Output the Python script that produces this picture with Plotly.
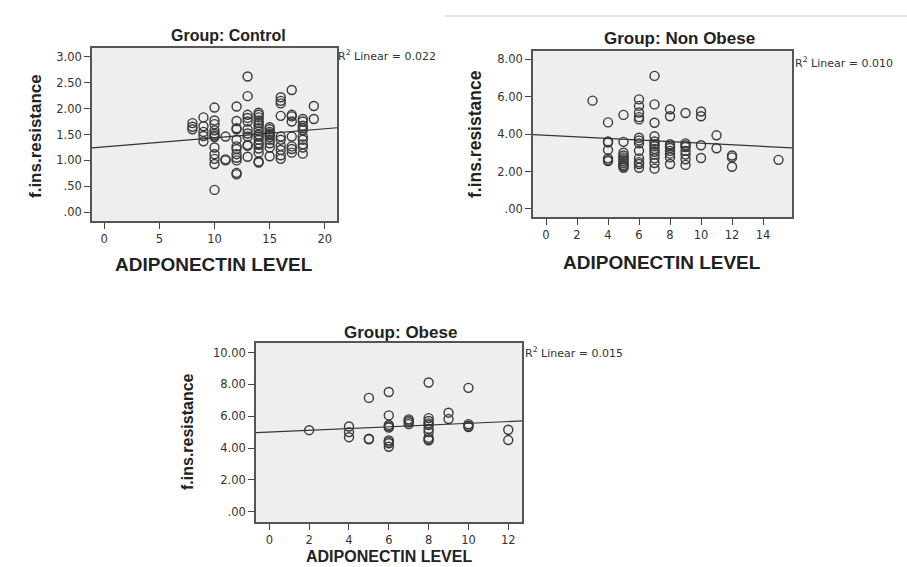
import plotly.graph_objects as go

W, H = 907, 567

# ---------------- data ----------------
# Group: Control  (x = adiponectin level, y = f.ins.resistance)
ctrl_x = ([8]*3 + [9]*5 + [10]*12 + [11]*3 + [12]*12 + [13]*11 + [14]*17 +
          [15]*10 + [16]*10 + [17]*8 + [18]*10 + [19]*2)
ctrl_y = [1.72, 1.65, 1.60,
          1.83, 1.66, 1.55, 1.47, 1.37,
          2.02, 1.77, 1.70, 1.58, 1.52, 1.48, 1.45, 1.25, 1.12, 1.03, 0.93, 0.43,
          1.46, 1.02, 1.00,
          2.04, 1.76, 1.62, 1.60, 1.40, 1.27, 1.22, 1.12, 1.05, 1.00, 0.76, 0.73,
          2.62, 2.24, 1.88, 1.82, 1.75, 1.60, 1.52, 1.46, 1.30, 1.28, 1.07,
          1.92, 1.88, 1.83, 1.77, 1.72, 1.68, 1.62, 1.56, 1.50, 1.46, 1.40, 1.33, 1.30, 1.23, 1.15, 0.98, 0.96,
          1.64, 1.60, 1.55, 1.52, 1.49, 1.45, 1.40, 1.33, 1.25, 1.08,
          2.22, 2.15, 2.10, 1.86, 1.46, 1.40, 1.28, 1.20, 1.10, 1.03,
          2.36, 1.88, 1.85, 1.75, 1.46, 1.27, 1.22, 1.15,
          1.80, 1.75, 1.67, 1.62, 1.58, 1.46, 1.40, 1.31, 1.25, 1.13,
          2.05, 1.80]
ctrl_fit_x = [-1.1, 21.1]
ctrl_fit_y = [1.24, 1.63]
ctrl_r2 = "0.022"

# Group: Non Obese
nonob_x = ([3]*1 + [4]*7 + [5]*11 + [6]*13 + [7]*13 + [8]*9 + [9]*8 +
           [10]*4 + [11]*2 + [12]*3 + [15]*1)
nonob_y = [5.78,
           4.62, 3.60, 3.55, 3.15, 2.70, 2.60, 2.55,
           5.02, 3.58, 3.00, 2.85, 2.75, 2.65, 2.55, 2.45, 2.35, 2.28, 2.20,
           5.85, 5.50, 5.15, 4.90, 4.78, 3.80, 3.65, 3.50, 3.10, 2.70, 2.50, 2.40, 2.20,
           7.10, 5.58, 4.60, 3.88, 3.60, 3.45, 3.35, 3.20, 3.05, 2.90, 2.70, 2.45, 2.15,
           5.32, 4.95, 3.45, 3.35, 3.25, 3.10, 2.95, 2.75, 2.40,
           5.12, 3.50, 3.40, 3.30, 3.10, 2.90, 2.65, 2.35,
           5.20, 4.95, 3.40, 2.72,
           3.93, 3.24,
           2.85, 2.75, 2.25,
           2.62]
nonob_fit_x = [-0.84, 15.87]
nonob_fit_y = [3.97, 3.26]
nonob_r2 = "0.010"

# Group: Obese
obese_x = ([2]*1 + [4]*3 + [5]*3 + [6]*9 + [7]*4 + [8]*10 + [9]*2 +
           [10]*4 + [12]*2)
obese_y = [5.12,
           5.35, 5.00, 4.68,
           7.15, 4.58, 4.55,
           7.52, 6.05, 5.45, 5.35, 5.28, 4.48, 4.40, 4.30, 4.08,
           5.80, 5.72, 5.62, 5.50,
           8.12, 5.88, 5.70, 5.55, 5.45, 5.20, 5.00, 4.65, 4.55, 4.48,
           6.22, 5.82,
           7.78, 5.50, 5.40, 5.32,
           5.15, 4.50]
obese_fit_x = [-0.67, 12.69]
obese_fit_y = [4.97, 5.70]
obese_r2 = "0.015"

# tick labels
ctrl_yticks = [0, 0.5, 1.0, 1.5, 2.0, 2.5, 3.0]
ctrl_yticktext = [".00", ".50", "1.00", "1.50", "2.00", "2.50", "3.00"]
ctrl_xticks = [0, 5, 10, 15, 20]
nonob_yticks = [0, 2, 4, 6, 8]
nonob_yticktext = [".00", "2.00", "4.00", "6.00", "8.00"]
nonob_xticks = [0, 2, 4, 6, 8, 10, 12, 14]
obese_yticks = [0, 2, 4, 6, 8, 10]
obese_yticktext = [".00", "2.00", "4.00", "6.00", "8.00", "10.00"]
obese_xticks = [0, 2, 4, 6, 8, 10, 12]

# ---------------- layout helpers ----------------
def px(x):
    return x / W

def py(y):
    return 1 - y / H

INK = "#3a3a3a"
BG = "#eeeeee"
BOLD = "Liberation Sans, Arial, sans-serif"
TICKF = dict(family="DejaVu Sans, Arial, sans-serif", size=11.5, color="#333333")

panels = [
    dict(name="Control", x=ctrl_x, y=ctrl_y, fx=ctrl_fit_x, fy=ctrl_fit_y, r2=ctrl_r2,
         box=(92, 337, 48, 221), xr=[-1.1, 21.1], yr=[-0.17, 3.17],
         xt=ctrl_xticks, yt=ctrl_yticks, ytt=ctrl_yticktext,
         title_xy=(228, 35), title_size=16, ylab_xy=(35, 136), ylab_size=17,
         xlab_xy=(214, 265), xlab_size=19, xlab_anchor="middle", r2_xy=(336, 55)),
    dict(name="Non Obese", x=nonob_x, y=nonob_y, fx=nonob_fit_x, fy=nonob_fit_y, r2=nonob_r2,
         box=(533, 792, 51, 217), xr=[-0.84, 15.87], yr=[-0.43, 8.43],
         xt=nonob_xticks, yt=nonob_yticks, ytt=nonob_yticktext,
         title_xy=(679, 38), title_size=17, ylab_xy=(475, 134), ylab_size=17.5,
         xlab_xy=(662, 262), xlab_size=19, xlab_anchor="middle", r2_xy=(793, 62)),
    dict(name="Obese", x=obese_x, y=obese_y, fx=obese_fit_x, fy=obese_fit_y, r2=obese_r2,
         box=(256, 522, 343, 522), xr=[-0.67, 12.69], yr=[-0.65, 10.6],
         xt=obese_xticks, yt=obese_yticks, ytt=obese_yticktext,
         title_xy=(400, 332), title_size=17, ylab_xy=(187, 432), ylab_size=16,
         xlab_xy=(389, 567), xlab_size=16, xlab_anchor="bottom", r2_xy=(523, 352)),
]

fig = go.Figure()
annotations = []
layout_axes = {}

for i, p in enumerate(panels, start=1):
    xa = "x" if i == 1 else f"x{i}"
    ya = "y" if i == 1 else f"y{i}"
    fig.add_trace(go.Scatter(
        x=p["x"], y=p["y"], mode="markers", xaxis=xa, yaxis=ya,
        marker=dict(symbol="circle-open", size=9, color=INK, line=dict(width=1.4, color=INK)),
        showlegend=False, hoverinfo="skip"))
    fig.add_trace(go.Scatter(
        x=p["fx"], y=p["fy"], mode="lines", xaxis=xa, yaxis=ya,
        line=dict(color="#333333", width=1.2), showlegend=False, hoverinfo="skip"))

    l, r, t, b = p["box"]
    xkey = "xaxis" if i == 1 else f"xaxis{i}"
    ykey = "yaxis" if i == 1 else f"yaxis{i}"
    layout_axes[xkey] = dict(
        domain=[px(l), px(r)], range=p["xr"], anchor=ya,
        tickmode="array", tickvals=p["xt"], ticktext=[str(v) for v in p["xt"]],
        ticks="outside", ticklen=6, tickwidth=1.3, tickcolor="#444444",
        showline=True, linecolor="#555555", linewidth=1.6, mirror=True,
        showgrid=False, zeroline=False, tickfont=TICKF, fixedrange=True)
    layout_axes[ykey] = dict(
        domain=[py(b), py(t)], range=p["yr"], anchor=xa,
        tickmode="array", tickvals=p["yt"], ticktext=p["ytt"],
        ticks="outside", ticklen=6, tickwidth=1.3, tickcolor="#444444",
        showline=True, linecolor="#555555", linewidth=1.6, mirror=True,
        showgrid=False, zeroline=False, tickfont=TICKF, fixedrange=True)

    fig.add_shape(type="rect", xref="paper", yref="paper",
                  x0=px(l), x1=px(r), y0=py(b), y1=py(t),
                  fillcolor=BG, line=dict(width=0), layer="below")

    tx, ty = p["title_xy"]
    annotations.append(dict(
        text=f"<b>Group: {p['name']}</b>", x=px(tx), y=py(ty), xref="paper", yref="paper",
        showarrow=False, xanchor="center", yanchor="middle",
        font=dict(family=BOLD, size=p["title_size"], color="#222222")))
    lx, ly = p["ylab_xy"]
    annotations.append(dict(
        text="<b>f.ins.resistance</b>", x=px(lx), y=py(ly), xref="paper", yref="paper",
        showarrow=False, xanchor="center", yanchor="middle", textangle=-90,
        font=dict(family=BOLD, size=p["ylab_size"], color="#222222")))
    bx, by = p["xlab_xy"]
    annotations.append(dict(
        text="<b>ADIPONECTIN LEVEL</b>", x=px(bx), y=py(by), xref="paper", yref="paper",
        showarrow=False, xanchor="center", yanchor=p["xlab_anchor"],
        font=dict(family=BOLD, size=p["xlab_size"], color="#222222")))
    rx, ry = p["r2_xy"]
    annotations.append(dict(
        text=f"R<sup>2</sup> Linear = {p['r2']}", x=px(rx), y=py(ry), xref="paper", yref="paper",
        showarrow=False, xanchor="left", yanchor="middle",
        font=dict(family="DejaVu Sans, Arial, sans-serif", size=11, color="#333333")))

# faint frame line from the source image
fig.add_shape(type="line", xref="paper", yref="paper",
              x0=px(445), x1=px(907), y0=py(16), y1=py(16),
              line=dict(color="#cfcfcf", width=1))

fig.update_layout(
    width=W, height=H, autosize=False,
    margin=dict(l=0, r=0, t=0, b=0),
    paper_bgcolor="white", plot_bgcolor="rgba(0,0,0,0)",
    annotations=annotations, showlegend=False,
    **layout_axes)

fig.write_html("out.html", config={"displayModeBar": False},
               post_script="document.body.style.margin='0';document.body.style.overflow='hidden';")
